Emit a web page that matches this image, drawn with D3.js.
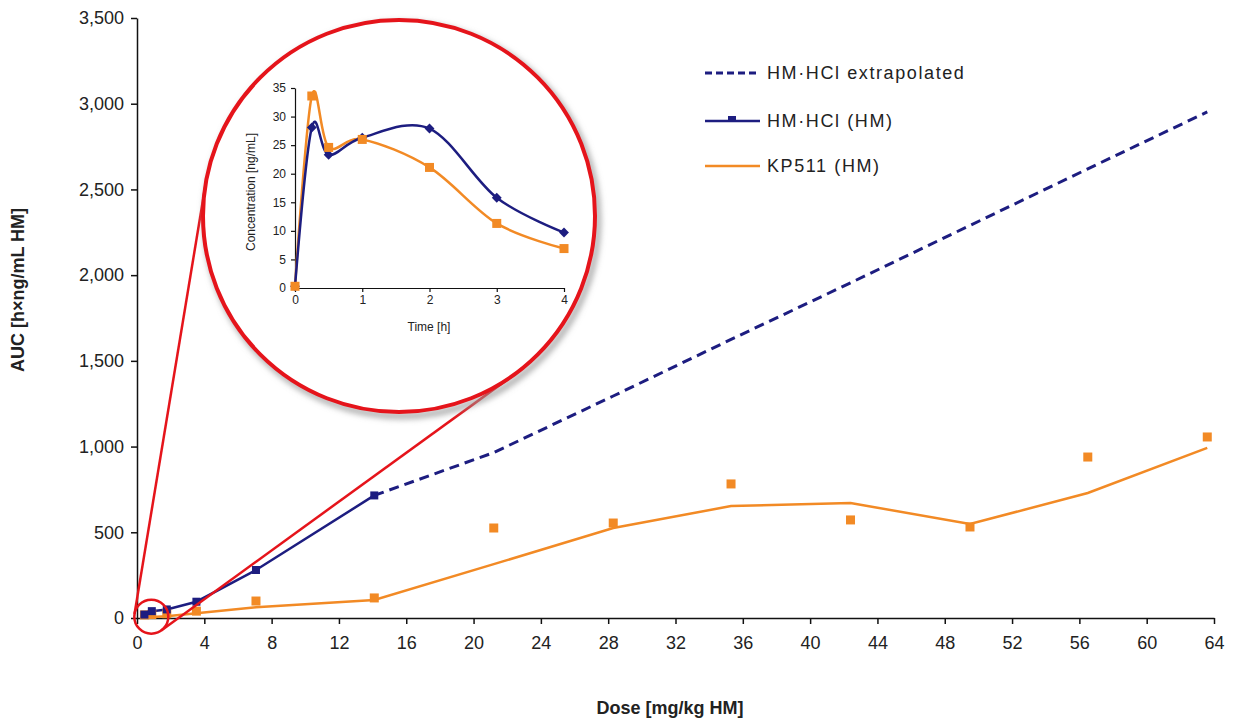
<!DOCTYPE html>
<html>
<head>
<meta charset="utf-8">
<script src="https://cdn.jsdelivr.net/npm/d3@7"></script>
<style>
  body { margin: 0; background: #fff; }
  text { font-family: "Liberation Sans", Arial, sans-serif; fill: #222; }
</style>
</head>
<body>
<div id="drawing_region"></div>
<script>
// main chart: dose [mg/kg HM] vs AUC
const dose = [0.44, 0.88, 1.77, 3.53, 7.07, 14.1, 21.2, 28.3, 35.3, 42.4, 49.5, 56.5, 63.6];
const hclAUC = [20, 40, 50, 95, 280, 715];            // measured doses only (first 6)
const extrapDose = [14.1, 21.2, 28.3, 35.3, 42.4, 49.5, 56.5, 63.6];
const extrapAUC = [715, 965, 1295, 1625, 1955, 2290, 2620, 2952];
const kpAUC = [18, 20, 25, 40, 99, 117, 525, 554, 782, 572, 531, 939, 1056];
const kpTrend = [3, 6, 10, 28, 62, 105, 314, 525, 653, 671, 548, 729, 992];
const xTicks = d3.range(0, 65, 4);
const yTicks = d3.range(0, 3501, 500);

// inset: concentration vs time
const time = [0, 0.25, 0.5, 1, 2, 3, 4];
const concHCl = [0.3, 28.1, 23.3, 26.3, 27.9, 15.8, 9.7];
const concKP = [0.3, 33.6, 24.6, 26.0, 21.1, 11.3, 6.9];
const insetXTicks = [0, 1, 2, 3, 4];
const insetYTicks = [0, 5, 10, 15, 20, 25, 30, 35];

const legendLabels = ["HM\u00b7HCl extrapolated", "HM\u00b7HCl (HM)", "KP511 (HM)"];

const navy = "#1d1d80";
const orange = "#f28a25";
const red = "#e5141b";

const config = {
    width: 1236, height: 724,
    margin: {top: 18, right: 22, bottom: 106, left: 137}
};

const svg = d3.select('#drawing_region')
    .append('svg')
    .attr('width', config.width)
    .attr('height', config.height);

const defs = svg.append('defs');
defs.append('filter').attr('id', 'blur')
    .append('feGaussianBlur').attr('stdDeviation', 3);

const xscale = d3.scaleLinear()
    .domain([0, 64])
    .range([config.margin.left, config.width - config.margin.right]);
const yscale = d3.scaleLinear()
    .domain([0, 3500])
    .range([config.height - config.margin.bottom, config.margin.top]);

// axes
const xaxis = svg.append('g')
    .attr('transform', `translate(0, ${yscale(0)})`)
    .call(d3.axisBottom(xscale).tickValues(xTicks).tickSize(6).tickSizeOuter(0));
const yaxis = svg.append('g')
    .attr('transform', `translate(${xscale(0)}, 0)`)
    .call(d3.axisLeft(yscale).tickValues(yTicks).tickFormat(d3.format(',')).tickSize(6).tickSizeOuter(0));

[xaxis, yaxis].forEach(g => {
    g.select('.domain').attr('stroke', '#111').attr('stroke-width', 1.5);
    g.selectAll('.tick line').attr('stroke', '#111').attr('stroke-width', 1.5);
    g.selectAll('.tick text')
        .style('font-family', '"Liberation Sans", Arial, sans-serif')
        .style('font-size', '18px')
        .attr('fill', '#333');
});
xaxis.selectAll('.tick text').attr('dy', '1.2em');
yaxis.selectAll('.tick text').attr('x', -13);

svg.append('text')
    .attr('x', 670).attr('y', 714)
    .attr('text-anchor', 'middle')
    .style('font-size', '18px').style('font-weight', 'bold')
    .text('Dose [mg/kg HM]');
svg.append('text')
    .attr('transform', 'translate(24, 290) rotate(-90)')
    .attr('text-anchor', 'middle')
    .style('font-size', '18px').style('font-weight', 'bold')
    .text('AUC [h\u00d7ng/mL HM]');

// series
const line = d3.line().x(d => xscale(d[0])).y(d => yscale(d[1]));

svg.append('path')
    .datum(d3.zip(extrapDose, extrapAUC))
    .attr('d', line)
    .attr('fill', 'none').attr('stroke', navy)
    .attr('stroke-width', 3).attr('stroke-dasharray', '10,6');

svg.append('path')
    .datum(d3.zip(dose, kpTrend))
    .attr('d', line)
    .attr('fill', 'none').attr('stroke', orange).attr('stroke-width', 2.5);

svg.append('path')
    .datum(d3.zip(dose.slice(0, hclAUC.length), hclAUC))
    .attr('d', line)
    .attr('fill', 'none').attr('stroke', navy).attr('stroke-width', 2.5);

svg.append('g').selectAll('rect')
    .data(d3.zip(dose, kpAUC))
    .join('rect')
    .attr('x', d => xscale(d[0]) - 4.5).attr('y', d => yscale(d[1]) - 4.5)
    .attr('width', 9).attr('height', 9)
    .attr('fill', orange);

svg.append('g').selectAll('rect')
    .data(d3.zip(dose.slice(0, hclAUC.length), hclAUC))
    .join('rect')
    .attr('x', d => xscale(d[0]) - 4).attr('y', d => yscale(d[1]) - 4)
    .attr('width', 8).attr('height', 8)
    .attr('fill', navy);

// zoom circles and their tangent lines
const small = {x: xscale(0.85), y: yscale(8), r: 17};
const big = {x: 399, y: 216, r: 196};

function tangents(c1, c2) {
    const dx = c2.x - c1.x, dy = c2.y - c1.y;
    const L = Math.hypot(dx, dy);
    const ux = dx / L, uy = dy / L;
    const a = (c2.r - c1.r) / L, b = Math.sqrt(1 - a * a);
    return [b, -b].map(s => {
        const nx = a * ux + s * (-uy), ny = a * uy + s * ux;
        return [[c1.x - c1.r * nx, c1.y - c1.r * ny], [c2.x - c2.r * nx, c2.y - c2.r * ny]];
    });
}

svg.append('g').selectAll('line')
    .data(tangents(small, big))
    .join('line')
    .attr('x1', d => d[0][0]).attr('y1', d => d[0][1])
    .attr('x2', d => d[1][0]).attr('y2', d => d[1][1])
    .attr('stroke', red).attr('stroke-width', 2.5);

svg.append('circle')
    .attr('cx', small.x).attr('cy', small.y).attr('r', small.r)
    .attr('fill', 'none').attr('stroke', red).attr('stroke-width', 2.5);

svg.append('circle')
    .attr('cx', big.x + 3).attr('cy', big.y + 4).attr('r', big.r)
    .attr('fill', 'none').attr('stroke', '#999').attr('stroke-width', 5)
    .attr('filter', 'url(#blur)');
svg.append('circle')
    .attr('cx', big.x).attr('cy', big.y).attr('r', big.r)
    .attr('fill', '#fff').attr('stroke', red).attr('stroke-width', 4);

// inset chart
const ix = d3.scaleLinear().domain([0, 4]).range([295, 564]);
const iy = d3.scaleLinear().domain([0, 35]).range([288, 88]);
const inset = svg.append('g');

const ixaxis = inset.append('g')
    .attr('transform', `translate(0, ${iy(0)})`)
    .call(d3.axisBottom(ix).tickValues(insetXTicks).tickFormat(d3.format('d')).tickSize(4).tickSizeOuter(0));
const iyaxis = inset.append('g')
    .attr('transform', `translate(${ix(0)}, 0)`)
    .call(d3.axisLeft(iy).tickValues(insetYTicks).tickSize(4).tickSizeOuter(0));
[ixaxis, iyaxis].forEach(g => {
    g.select('.domain').attr('stroke', '#111').attr('stroke-width', 1.2);
    g.selectAll('.tick line').attr('stroke', '#111').attr('stroke-width', 1.2);
    g.selectAll('.tick text')
        .style('font-family', '"Liberation Sans", Arial, sans-serif')
        .style('font-size', '12px')
        .attr('fill', '#222');
});
iyaxis.selectAll('.tick text').attr('x', -9);

inset.append('text')
    .attr('x', 429).attr('y', 331)
    .attr('text-anchor', 'middle')
    .style('font-size', '12px')
    .text('Time [h]');
inset.append('text')
    .attr('transform', 'translate(255, 192) rotate(-90)')
    .attr('text-anchor', 'middle')
    .style('font-size', '12px')
    .text('Concentration [ng/mL]');

const iline = d3.line()
    .x(d => ix(d[0])).y(d => iy(d[1]))
    .curve(d3.curveCardinal.tension(0));

inset.append('path')
    .datum(d3.zip(time, concKP))
    .attr('d', iline)
    .attr('fill', 'none').attr('stroke', orange).attr('stroke-width', 2.5);
inset.append('path')
    .datum(d3.zip(time, concHCl))
    .attr('d', iline)
    .attr('fill', 'none').attr('stroke', navy).attr('stroke-width', 2.5);

inset.append('g').selectAll('rect')
    .data(d3.zip(time, concHCl))
    .join('rect')
    .attr('x', -3.5).attr('y', -3.5).attr('width', 7).attr('height', 7)
    .attr('transform', d => `translate(${ix(d[0])}, ${iy(d[1])}) rotate(45)`)
    .attr('fill', navy);
inset.append('g').selectAll('rect')
    .data(d3.zip(time, concKP))
    .join('rect')
    .attr('x', d => ix(d[0]) - 4.5).attr('y', d => iy(d[1]) - 4.5)
    .attr('width', 9).attr('height', 9)
    .attr('fill', orange);

// legend
const legend = svg.append('g').attr('transform', 'translate(705, 0)');
const legendY = [73, 121, 166];
const legendItems = legend.selectAll('g')
    .data(legendLabels)
    .join('g')
    .attr('transform', (d, i) => `translate(0, ${legendY[i]})`);

legendItems.append('line')
    .attr('x1', 0).attr('x2', 55)
    .attr('stroke', (d, i) => i < 2 ? navy : orange)
    .attr('stroke-width', (d, i) => i === 0 ? 3 : 2.5)
    .attr('stroke-dasharray', (d, i) => i === 0 ? '7,4' : null);
legendItems.filter((d, i) => i === 1)
    .append('rect')
    .attr('x', 23).attr('y', -5).attr('width', 8).attr('height', 6)
    .attr('fill', navy);
legendItems.append('text')
    .attr('x', 62).attr('y', 6)
    .style('font-size', '18px')
    .style('letter-spacing', '1.6px')
    .text(d => d);
</script>
</body>
</html>
